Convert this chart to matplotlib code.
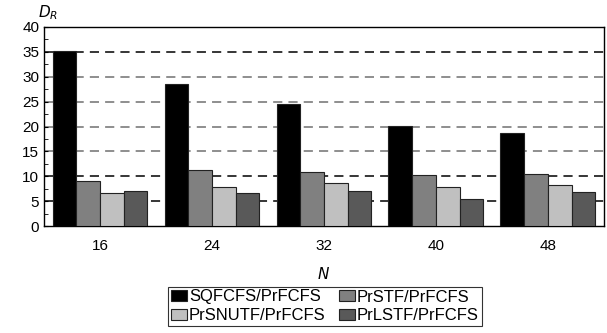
import numpy as np
import matplotlib
matplotlib.use("Agg")
import matplotlib.pyplot as plt

plt.rcParams['font.family'] = ['Liberation Sans', 'DejaVu Sans']

# данные
n_vals = ['16', '24', '32', '40', '48']
series = ['SQFCFS/PrFCFS', 'PrSTF/PrFCFS', 'PrSNUTF/PrFCFS', 'PrLSTF/PrFCFS']
sqfcfs = [35.1, 28.5, 24.6, 20.1, 18.7]
prstf = [9.05, 11.3, 10.9, 10.3, 10.45]
prsnutf = [6.6, 7.8, 8.7, 7.8, 8.2]
prlstf = [7.0, 6.6, 7.1, 5.4, 6.9]
colors = ['#000000', '#808080', '#c0c0c0', '#595959']

fig = plt.figure(figsize=(6.07, 3.33), dpi=100)
ax = fig.add_axes([0.0725, 0.321, 0.9225, 0.598])

x = np.arange(len(n_vals))
w = 0.212
bars = []
for i, vals in enumerate([sqfcfs, prstf, prsnutf, prlstf]):
    b = ax.bar(x + (i - 1.5) * w, vals, w, color=colors[i], edgecolor='#222222',
               linewidth=0.8, label=series[i], zorder=3)
    bars.append(b)

# пунктирная сетка
for y in [5, 10, 15, 20, 25, 30, 35]:
    c = '#000000' if y in (5, 10, 35) else '#707070'
    ax.axhline(y, color=c, linestyle=(0, (6, 4)), linewidth=1.1, zorder=1)

ax.set_xlim(-0.5, 4.5)
ax.set_ylim(0, 40)
ax.set_yticks(range(0, 41, 5))
ax.set_yticks(np.arange(2.5, 40, 5), minor=True)
ax.set_xticks(x)
ax.set_xticklabels(n_vals)
ax.tick_params(axis='y', which='both', direction='in', length=3, labelsize=11)
ax.tick_params(axis='x', length=0, labelsize=11, pad=9)
for s in ax.spines.values():
    s.set_linewidth(1.0)

ax.set_xlabel('$N$', fontsize=11, labelpad=10)
fig.text(0.062, 0.935, '$D_R$', fontsize=11, ha='left', va='bottom')

# легенда заполняется по строкам
order = [0, 2, 1, 3]
leg = fig.legend([bars[i] for i in order], [series[i] for i in order],
                 loc='upper left', bbox_to_anchor=(168 / 607, 1 - 287 / 333), ncol=2,
                 fontsize=12, frameon=True, fancybox=False, edgecolor='black',
                 handlelength=1.0, handleheight=0.6, handletextpad=0.1,
                 columnspacing=0.8, borderpad=0.15, labelspacing=0.22,
                 borderaxespad=0)
leg.get_frame().set_linewidth(0.8)

plt.savefig('out.png', dpi=100)
